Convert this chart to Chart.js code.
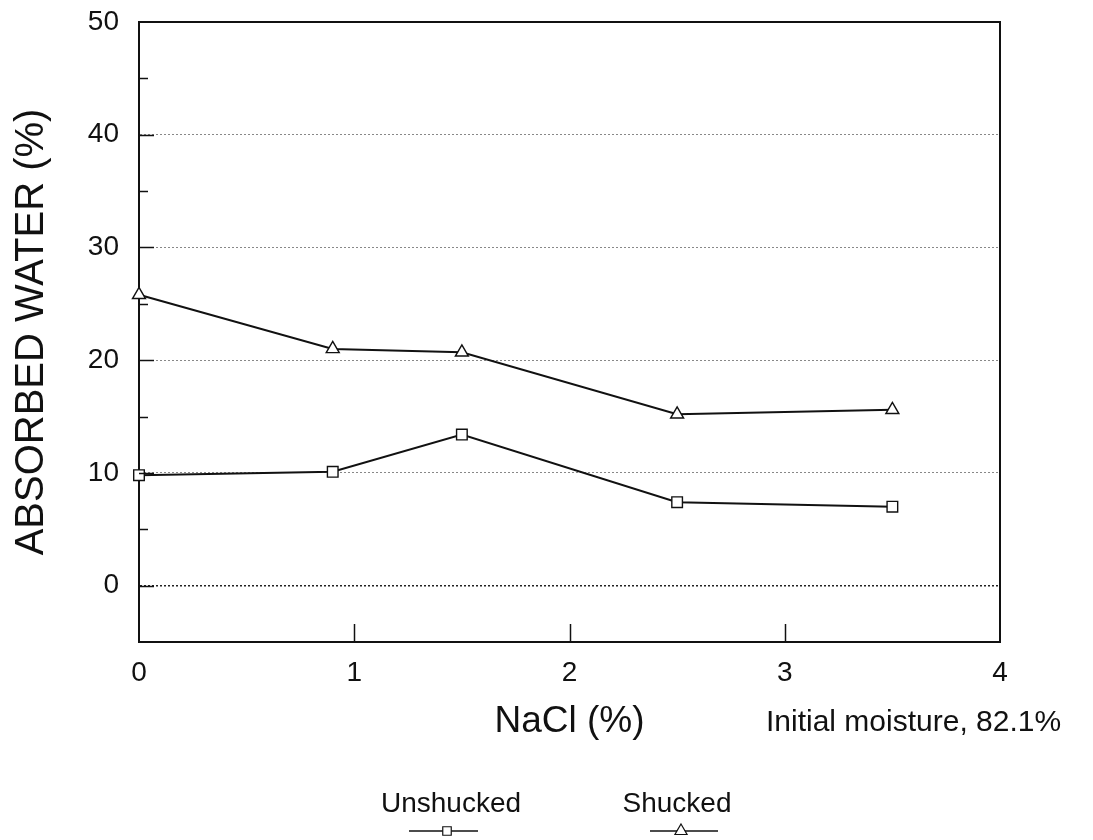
<!DOCTYPE html>
<html>
<head>
<meta charset="utf-8">
<title>Absorbed water vs NaCl</title>
<script src="https://cdn.jsdelivr.net/npm/chart.js@4.4.1/dist/chart.umd.min.js"></script>
<style>
  html, body { margin: 0; padding: 0; background: #fff; }
  #wrap { width: 1093px; height: 840px; }
</style>
</head>
<body>
<div id="wrap"><canvas id="chart" width="1093" height="840"></canvas></div>
<script>
// values
const nacl = [0, 0.9, 1.5, 2.5, 3.5];
const unshucked = [9.8, 10.1, 13.4, 7.4, 7.0];
const shucked = [25.8, 21.0, 20.7, 15.2, 15.6];
const seriesNames = ['Unshucked', 'Shucked'];
const xRange = [0, 4];
const yRange = [-5, 50];
const note = 'Initial moisture, 82.1%';

const FONT = "'Liberation Sans', Arial, Helvetica, sans-serif";
Chart.defaults.font.family = FONT;
Chart.defaults.color = '#111';

function toPoints(ys) {
  return nacl.map((x, i) => ({ x: x, y: ys[i] }));
}

function drawMarker(ctx, style, r, x, y) {
  ctx.beginPath();
  if (style === 'rect') {
    const s = r * Math.SQRT1_2;
    ctx.rect(x - s, y - s, 2 * s, 2 * s);
  } else {
    ctx.moveTo(x, y - r);
    ctx.lineTo(x + r * Math.sin(2 * Math.PI / 3), y + r / 2);
    ctx.lineTo(x - r * Math.sin(2 * Math.PI / 3), y + r / 2);
    ctx.closePath();
  }
  ctx.fill();
  ctx.stroke();
}

// top/right frame and the inward tick marks
const framePlugin = {
  id: 'frame',
  afterDraw(chart) {
    const { ctx, chartArea: a, scales: { x, y } } = chart;
    ctx.save();
    ctx.strokeStyle = '#111';
    ctx.lineWidth = 2;
    ctx.beginPath();
    ctx.moveTo(a.left, a.top);
    ctx.lineTo(a.right, a.top);
    ctx.lineTo(a.right, a.bottom);
    ctx.stroke();
    ctx.lineWidth = 1.5;
    y.ticks.forEach(t => {
      if (t.value <= y.min || t.value >= y.max) return;
      const py = Math.round(y.getPixelForValue(t.value)) + 0.5;
      const len = t.value % 10 === 0 ? 15 : 9;
      ctx.beginPath();
      ctx.moveTo(a.left, py);
      ctx.lineTo(a.left + len, py);
      ctx.stroke();
    });
    x.ticks.forEach(t => {
      if (t.value <= x.min || t.value >= x.max) return;
      const px = Math.round(x.getPixelForValue(t.value)) + 0.5;
      ctx.beginPath();
      ctx.moveTo(px, a.bottom);
      ctx.lineTo(px, a.bottom - 18);
      ctx.stroke();
    });
    ctx.restore();
  }
};

// legend: name above a short line with the marker, plus the note
const legendPlugin = {
  id: 'legendBelow',
  afterDraw(chart, args, opts) {
    const ctx = chart.ctx;
    ctx.save();
    ctx.fillStyle = '#111';
    ctx.textBaseline = 'middle';
    ctx.font = '30px ' + FONT;
    ctx.textAlign = 'left';
    ctx.fillText(note, opts.noteX, opts.noteY);

    ctx.font = '28px ' + FONT;
    ctx.textAlign = 'center';
    chart.data.datasets.forEach((ds, i) => {
      const e = opts.entries[i];
      ctx.fillStyle = '#111';
      ctx.fillText(ds.label, e.cx, opts.textY);
      ctx.strokeStyle = '#111';
      ctx.lineWidth = 1.5;
      ctx.beginPath();
      ctx.moveTo(e.x0, opts.lineY);
      ctx.lineTo(e.x1, opts.lineY);
      ctx.stroke();
      ctx.fillStyle = '#fff';
      ctx.lineWidth = 1.2;
      drawMarker(ctx, ds.pointStyle, e.r, e.mx, opts.lineY);
    });
    ctx.restore();
  }
};

const ctx = document.getElementById('chart').getContext('2d');
new Chart(ctx, {
  type: 'scatter',
  data: {
    datasets: [
      {
        label: seriesNames[0],
        data: toPoints(unshucked),
        showLine: true,
        clip: false,
        borderColor: '#111',
        borderWidth: 2,
        pointStyle: 'rect',
        pointRadius: 7.5,
        pointBackgroundColor: '#fff',
        pointBorderColor: '#111',
        pointBorderWidth: 1.4
      },
      {
        label: seriesNames[1],
        data: toPoints(shucked),
        showLine: true,
        clip: false,
        borderColor: '#111',
        borderWidth: 2,
        pointStyle: 'triangle',
        pointRadius: 7.5,
        pointBackgroundColor: '#fff',
        pointBorderColor: '#111',
        pointBorderWidth: 1.4
      }
    ]
  },
  options: {
    responsive: false,
    animation: false,
    layout: { padding: { top: 22, right: 93, bottom: 0, left: 0 } },
    plugins: {
      legend: { display: false },
      tooltip: { enabled: false },
      legendBelow: {
        noteX: 766,
        noteY: 723,
        textY: 804,
        lineY: 831,
        entries: [
          { cx: 451, x0: 409, x1: 478, mx: 447, r: 6 },
          { cx: 677, x0: 650, x1: 718, mx: 681, r: 7 }
        ]
      }
    },
    scales: {
      x: {
        type: 'linear',
        min: xRange[0],
        max: xRange[1],
        ticks: { stepSize: 1, font: { size: 28 }, padding: 14, color: '#111' },
        grid: { display: false, drawTicks: false },
        border: { display: true, color: '#111', width: 2 },
        title: {
          display: true,
          text: 'NaCl (%)',
          font: { size: 37 },
          color: '#111',
          padding: { top: 0, bottom: 96 }
        },
        afterFit(scale) {
          scale.height = 198;
          scale.paddingLeft = 0;
          scale.paddingRight = 0;
        }
      },
      y: {
        min: yRange[0],
        max: yRange[1],
        ticks: {
          stepSize: 5,
          font: { size: 28 },
          padding: 20,
          color: '#111',
          callback: v => (v >= 0 && v % 10 === 0 ? v : '')
        },
        grid: {
          drawTicks: false,
          color: c => {
            const v = c.tick.value;
            if (v === 0) return '#222';
            if (v > 0 && v < 50 && v % 10 === 0) return '#888';
            return 'rgba(0,0,0,0)';
          },
          lineWidth: c => (c.tick.value === 0 ? 1.5 : 1)
        },
        border: { display: true, color: '#111', width: 2, dash: [2, 2] },
        title: {
          display: true,
          text: 'ABSORBED WATER (%)',
          font: { size: 40 },
          color: '#111',
          padding: { top: 8, bottom: 0 }
        },
        afterFit(scale) {
          scale.width = 139;
          scale.paddingTop = 0;
          scale.paddingBottom = 0;
        }
      }
    }
  },
  plugins: [framePlugin, legendPlugin]
});
</script>
</body>
</html>
